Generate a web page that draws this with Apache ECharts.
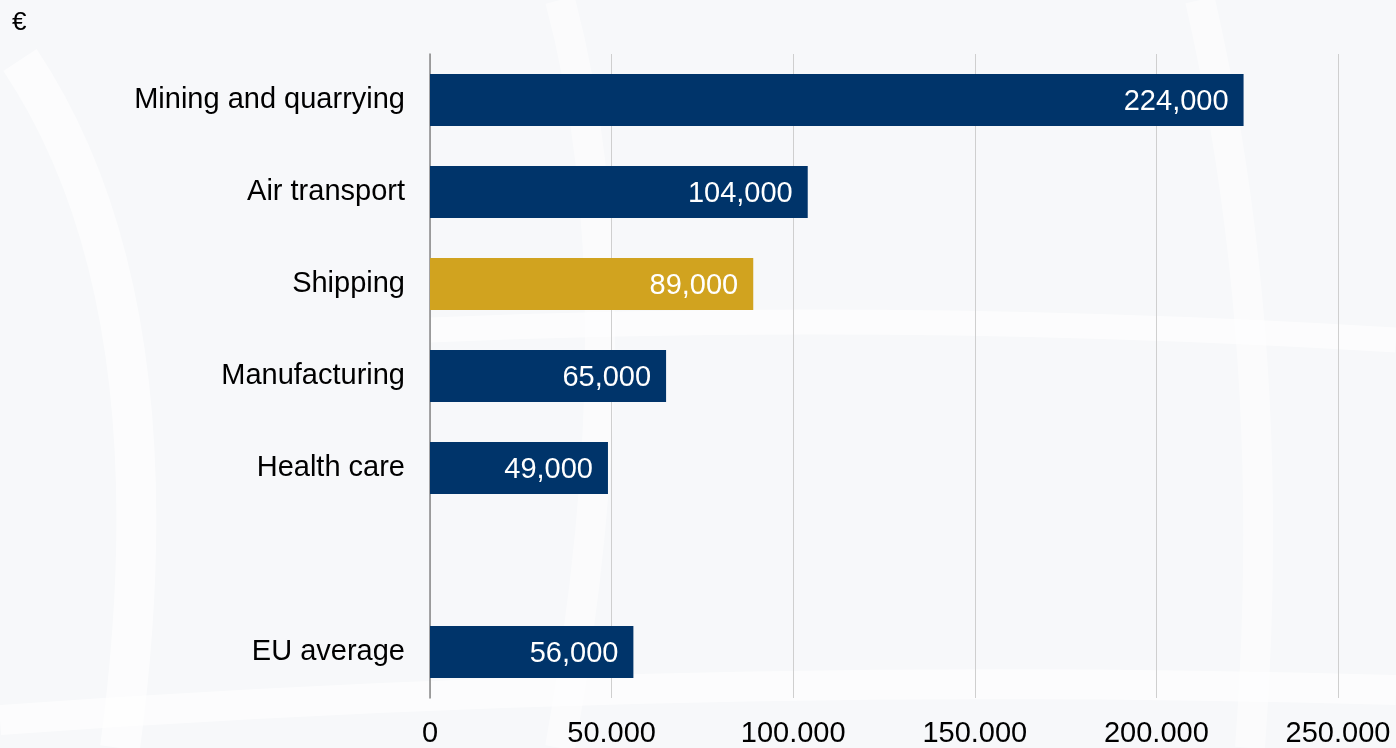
<!DOCTYPE html>
<html>
<head>
<meta charset="utf-8">
<script src="https://cdn.jsdelivr.net/npm/echarts@6/dist/echarts.min.js"></script>
<style>html,body{margin:0;padding:0;background:#f8f9fb;}#c{width:1396px;height:748px;}</style>
</head>
<body>
<div id="c"></div>
<script>
const categories = ['Mining and quarrying', 'Air transport', 'Shipping', 'Manufacturing', 'Health care', '', 'EU average'];
const values = [224000, 104000, 89000, 65000, 49000, null, 56000];
const highlight = 'Shipping';

const navy = '#00346a', gold = '#d1a31f';
const font = '"Liberation Sans", Arial, sans-serif';
const chart = echarts.init(document.getElementById('c'));
const fmtLabel = v => v.toLocaleString('en-US');
const curve = (x1, y1, cx, cy, x2, y2, w, o) => ({
  type: 'bezierCurve', silent: true, z: -10,
  shape: {x1: x1, y1: y1, cpx1: cx, cpy1: cy, x2: x2, y2: y2},
  style: {fill: null, stroke: '#ffffff', lineWidth: w, opacity: o}
});
chart.setOption({
  backgroundColor: '#f7f8fa',
  animation: false,
  graphic: [
    curve(20, 60, 180, 300, 120, 748, 40, 0.6),
    curve(560, 0, 640, 300, 560, 748, 30, 0.45),
    curve(1200, 0, 1280, 350, 1250, 748, 30, 0.45),
    curve(430, 330, 900, 310, 1396, 340, 25, 0.6),
    curve(0, 720, 700, 670, 1396, 690, 30, 0.6),
    {type: 'text', left: 12, top: 10, style: {text: '€', fontSize: 26, fontFamily: font, fill: '#000'}}
  ],
  grid: {left: 430, right: 58, top: 54, bottom: 49},
  xAxis: {
    type: 'value', min: 0, max: 250000, interval: 50000,
    axisLine: {show: false}, axisTick: {show: false},
    splitLine: {show: true, lineStyle: {color: '#cfcfcf', width: 1}},
    axisLabel: {
      margin: 21, color: '#000', fontSize: 29, fontFamily: font,
      formatter: v => v.toLocaleString('en-US').replace(/,/g, '.')
    }
  },
  yAxis: {
    type: 'category', data: categories, inverse: true,
    axisLine: {show: true, lineStyle: {color: '#888888', width: 1.5}},
    axisTick: {show: false},
    axisLabel: {margin: 25, color: '#000', fontSize: 29, fontFamily: font, padding: [5, 0, 0, 0]}
  },
  series: [{
    type: 'bar',
    barWidth: 52,
    data: values.map((v, i) => ({value: v, itemStyle: {color: categories[i] === highlight ? gold : navy}})),
    label: {
      show: true, position: 'insideRight', distance: 15, offset: [0, 2], color: '#fff', fontSize: 29, fontFamily: font,
      formatter: p => p.value == null ? '' : fmtLabel(p.value)
    }
  }]
});
</script>
</body>
</html>
